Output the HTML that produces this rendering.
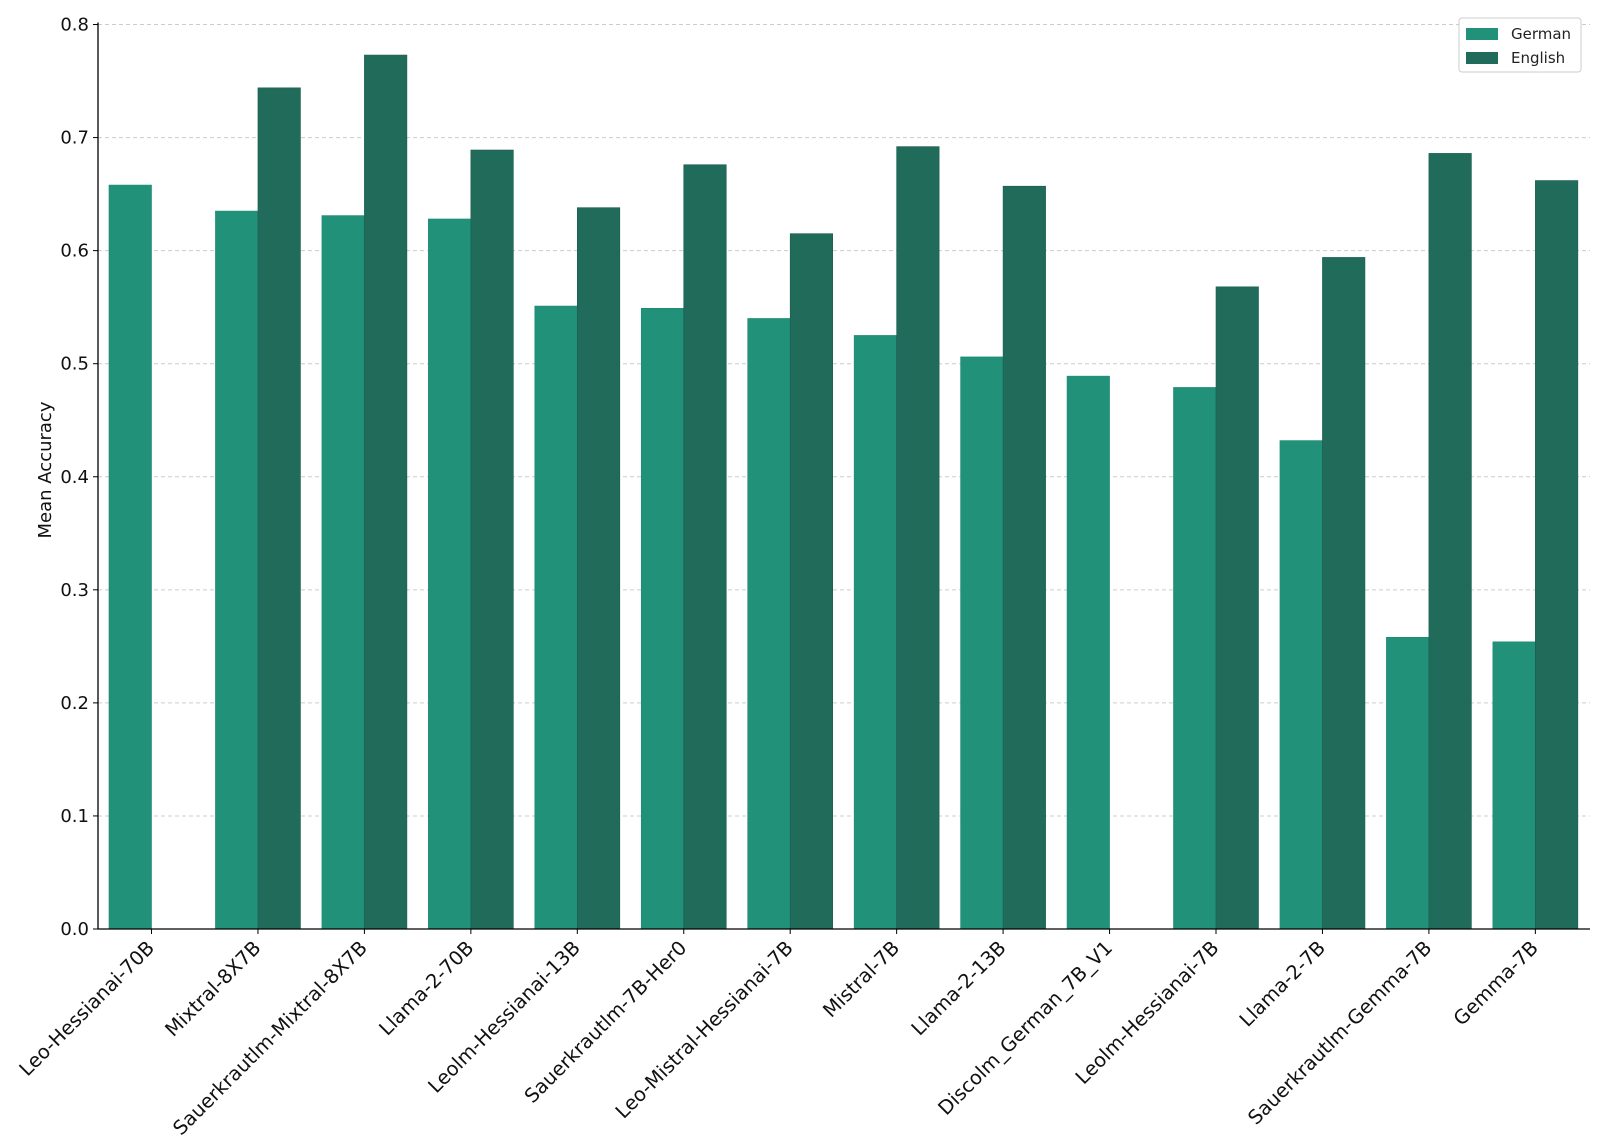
<!DOCTYPE html>
<html><head><meta charset="utf-8"><style>body{margin:0;background:#fff}svg{display:block;font-family:"DejaVu Sans","Liberation Sans",sans-serif}</style></head><body>
<svg width="1600" height="1145" xmlns="http://www.w3.org/2000/svg">
<g id="grid" stroke="#cccccc" stroke-dasharray="4,3" stroke-width="1"></g>
<g id="bars"></g>
<g id="axes"></g>
<text x="0" y="0" font-size="18" transform="translate(51,470) rotate(-90)" text-anchor="middle" fill="#111">Mean Accuracy</text>
<g>
<rect x="1459" y="18" width="122" height="54" rx="3" fill="#fff" stroke="#ccc"/>
<rect x="1466" y="28" width="32" height="12" fill="#22917a"/>
<rect x="1466" y="52" width="32" height="12" fill="#216b5b"/>
<text x="1511" y="39" font-size="15" fill="#222">German</text>
<text x="1511" y="63" font-size="15" fill="#222">English</text>
</g>
<script>
var ns="http://www.w3.org/2000/svg";
function el(p,t,a,txt){var e=document.createElementNS(ns,t);for(var k in a)e.setAttribute(k,a[k]);if(txt)e.textContent=txt;p.appendChild(e);return e;}
var y0=929,per=1130.6,L=98,R=1590;
function Y(v){return y0-v*per;}
var grid=document.getElementById('grid'),axes=document.getElementById('axes'),bars=document.getElementById('bars');
for(var i=0;i<=8;i++){var y=Y(i/10);if(i>0)el(grid,'line',{x1:L,x2:R,y1:y,y2:y});
el(axes,'line',{x1:L-5,x2:L,y1:y,y2:y,stroke:'#000'});
el(axes,'text',{x:L-9,y:y+6,'font-size':18,'text-anchor':'end',fill:'#111'},(i/10).toFixed(1));}
el(axes,'line',{x1:L,x2:L,y1:y0,y2:Y(0.8)-2,stroke:'#000','stroke-width':1.3});
el(axes,'line',{x1:L,x2:R,y1:y0,y2:y0,stroke:'#000','stroke-width':1.3});
var d=[["Leo-Hessianai-70B",.658,null],["Mixtral-8X7B",.635,.744],["Sauerkrautlm-Mixtral-8X7B",.631,.773],["Llama-2-70B",.628,.689],["Leolm-Hessianai-13B",.551,.638],["Sauerkrautlm-7B-Her0",.549,.676],["Leo-Mistral-Hessianai-7B",.540,.615],["Mistral-7B",.525,.692],["Llama-2-13B",.506,.657],["Discolm_German_7B_V1",.489,null],["Leolm-Hessianai-7B",.479,.568],["Llama-2-7B",.432,.594],["Sauerkrautlm-Gemma-7B",.258,.686],["Gemma-7B",.254,.662]];
var w=42.5;
d.forEach(function(r,i){var c=151.5+106.45*i;
el(bars,'rect',{x:c-w,y:Y(r[1]),width:w,height:r[1]*per,fill:'#22917a',stroke:'#1c8a72','stroke-width':0.6});
if(r[2]!=null)el(bars,'rect',{x:c,y:Y(r[2]),width:w,height:r[2]*per,fill:'#216b5b',stroke:'#1a5c4e','stroke-width':0.6});
el(axes,'line',{x1:c,x2:c,y1:y0,y2:y0+5,stroke:'#000'});
el(axes,'text',{x:c+4,y:y0+20,'font-size':19.5,'text-anchor':'end',fill:'#111',transform:'rotate(-45 '+(c+4)+' '+(y0+20)+')'},r[0]);});
</script>
</svg>
</body></html>
